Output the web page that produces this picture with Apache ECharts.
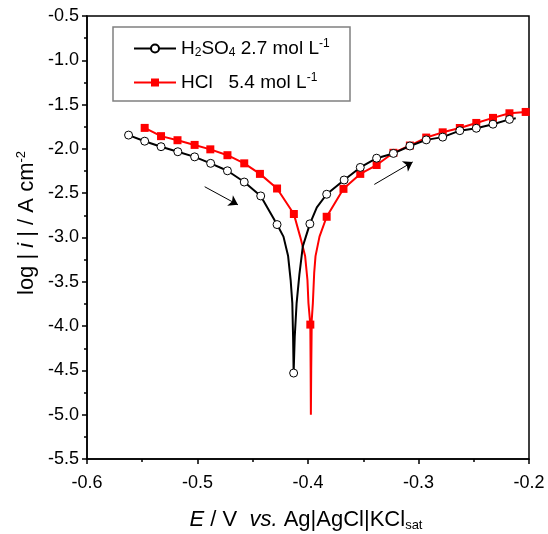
<!DOCTYPE html>
<html><head><meta charset="utf-8">
<script src="https://cdn.jsdelivr.net/npm/echarts@6/dist/echarts.min.js"></script>
<style>html,body{margin:0;padding:0;background:#fff}#c{width:548px;height:534px}</style>
</head><body><div id="c"></div>
<script>
// Tick values
const xTicks = [-0.6, -0.5, -0.4, -0.3, -0.2];
const yTicks = [-5.5, -5.0, -4.5, -4.0, -3.5, -3.0, -2.5, -2.0, -1.5, -1.0, -0.5];

// H2SO4 2.7 mol/L : marker points
const h2so4E = [-0.5624,-0.5478,-0.5330,-0.5178,-0.5026,-0.4881,-0.4729,-0.4577,-0.4428,-0.4280,-0.4130,-0.3983,-0.3831,-0.3673,-0.3527,-0.3379,-0.3227,-0.3078,-0.2930,-0.2781,-0.2626,-0.2477,-0.2326,-0.2177];
const h2so4LogI = [-1.844,-1.913,-1.975,-2.032,-2.090,-2.163,-2.247,-2.374,-2.531,-2.854,-4.53,-2.846,-2.512,-2.351,-2.209,-2.105,-2.051,-1.967,-1.898,-1.867,-1.794,-1.767,-1.721,-1.667];
// H2SO4 : extra curve points (no marker)
const h2so4CurveE = [-0.4222,-0.4180,-0.4157,-0.4142,-0.4135,-0.4120,-0.4103,-0.4078,-0.4047,-0.3920,-0.2120];
const h2so4CurveLogI = [-2.99,-3.21,-3.48,-3.74,-4.12,-4.12,-3.74,-3.42,-3.10,-2.66,-1.655];

// HCl 5.4 mol/L : marker points
const hclE = [-0.5478,-0.5330,-0.5181,-0.5026,-0.4884,-0.4729,-0.4577,-0.4435,-0.4280,-0.4128,-0.3979,-0.3831,-0.3679,-0.3527,-0.3379,-0.3227,-0.3078,-0.2930,-0.2781,-0.2626,-0.2477,-0.2326,-0.2177,-0.2030];
const hclLogI = [-1.763,-1.856,-1.902,-1.955,-2.005,-2.071,-2.163,-2.282,-2.447,-2.735,-3.983,-2.766,-2.451,-2.282,-2.182,-2.044,-1.962,-1.872,-1.813,-1.764,-1.707,-1.650,-1.598,-1.583];
// HCl : extra curve points (no marker)
const hclCurveE = [-0.4071,-0.4026,-0.4005,-0.3996,-0.3976,-0.3974,-0.3971,-0.3966,-0.3956,-0.3944,-0.3932,-0.3896];
const hclCurveLogI = [-2.99,-3.21,-3.48,-3.74,-4.50,-5.00,-4.50,-3.93,-3.74,-3.40,-3.21,-2.99];

// Arrows [x1, y1, x2, y2]
const arrowCathodic = [-0.4935, -2.427, -0.4634, -2.631];
const arrowAnodic = [-0.3400, -2.401, -0.3053, -2.147];

function build(E, L, cE, cL) {
  const pts = [];
  E.forEach((x, i) => pts.push({ value: [x, L[i]] }));
  cE.forEach((x, i) => pts.push({ value: [x, cL[i]], symbol: 'none' }));
  pts.sort((a, b) => a.value[0] - b.value[0]);
  return pts;
}

const FONT = '"Liberation Sans", Arial, sans-serif';
const chart = echarts.init(document.getElementById('c'));
const fmt1 = v => v.toFixed(1);

chart.setOption({
  animation: false,
  backgroundColor: '#fff',
  grid: { left: 87, right: 19, top: 16, bottom: 75, show: true, borderColor: '#000', borderWidth: 1.5, backgroundColor: 'transparent' },
  xAxis: {
    type: 'value', min: xTicks[0], max: xTicks[xTicks.length - 1], interval: 0.1,
    axisLine: { show: true, onZero: false, lineStyle: { color: '#000', width: 1.5 } },
    axisTick: { show: true, inside: false, length: 5, lineStyle: { color: '#000', width: 1.5 } },
    minorTick: { show: true, splitNumber: 2, length: 3, lineStyle: { color: '#000', width: 1.5 } },
    splitLine: { show: false },
    axisLabel: { color: '#000', fontSize: 18, fontFamily: FONT, margin: 15, formatter: fmt1 }
  },
  yAxis: {
    type: 'value', min: yTicks[0], max: yTicks[yTicks.length - 1], interval: 0.5,
    axisLine: { show: true, onZero: false, lineStyle: { color: '#000', width: 1.5 } },
    axisTick: { show: true, inside: false, length: 5, lineStyle: { color: '#000', width: 1.5 } },
    minorTick: { show: true, splitNumber: 2, length: 3, lineStyle: { color: '#000', width: 1.5 } },
    splitLine: { show: false },
    axisLabel: { color: '#000', fontSize: 18, fontFamily: FONT, margin: 8, formatter: fmt1 }
  },
  legend: {
    data: ['H2SO4', 'HCl'], orient: 'vertical', left: 133, top: 38,
    itemWidth: 42, itemHeight: 10, itemGap: 13, padding: 0,
    textStyle: {
      color: '#000', fontSize: 19, fontFamily: FONT, lineHeight: 21,
      rich: {
        sub: { fontSize: 12, fontFamily: FONT, color: '#000', lineHeight: 7, verticalAlign: 'bottom' },
        sup: { fontSize: 12, fontFamily: FONT, color: '#000', lineHeight: 9, verticalAlign: 'top' }
      }
    },
    formatter: n => n === 'H2SO4' ? 'H{sub|2}SO{sub|4} 2.7 mol L{sup|-1}' : 'HCl   5.4 mol L{sup|-1}'
  },
  graphic: [
    { type: 'rect', z: 1, shape: { x: 113, y: 27, width: 237, height: 74 }, style: { fill: 'transparent', stroke: '#808080', lineWidth: 1.5 } },
    { type: 'text', x: 27, y: 223, rotation: Math.PI / 2,
      style: { text: 'log | {i|i} | / A cm{sup|-2}', fill: '#000', fontSize: 22, fontFamily: FONT, align: 'center', verticalAlign: 'middle', lineHeight: 24,
        rich: { i: { fontStyle: 'italic', fontSize: 22, fontFamily: FONT, fill: '#000' },
                sup: { fontSize: 13, fontFamily: FONT, fill: '#000', lineHeight: 10, verticalAlign: 'top' } } } },
    { type: 'text', x: 306, y: 520,
      style: { text: '{i|E} / V  {i|vs.} Ag|AgCl|KCl{sub|sat}', fill: '#000', fontSize: 22, fontFamily: FONT, align: 'center', verticalAlign: 'middle', lineHeight: 24,
        rich: { i: { fontStyle: 'italic', fontSize: 22, fontFamily: FONT, fill: '#000' },
                sub: { fontSize: 13, fontFamily: FONT, fill: '#000', lineHeight: 5, verticalAlign: 'bottom' } } } }
  ],
  series: [
    {
      name: 'HCl', type: 'line', z: 2,
      data: build(hclE, hclLogI, hclCurveE, hclCurveLogI),
      symbol: 'rect', symbolSize: 8, showAllSymbol: true,
      itemStyle: { color: '#ff0000', borderColor: '#ff0000', borderWidth: 0 },
      lineStyle: { color: '#ff0000', width: 2 }
    },
    {
      name: 'H2SO4', type: 'line', z: 3,
      data: build(h2so4E, h2so4LogI, h2so4CurveE, h2so4CurveLogI),
      symbol: 'circle', symbolSize: 8, showAllSymbol: true,
      itemStyle: { color: '#ffffff', borderColor: '#000', borderWidth: 1 },
      lineStyle: { color: '#000', width: 2 },
      markLine: {
        silent: true, symbol: ['none', 'arrow'], symbolSize: 9,
        lineStyle: { color: '#000', width: 1, type: 'solid' },
        label: { show: false },
        data: [arrowCathodic, arrowAnodic].map(a => [{ coord: [a[0], a[1]] }, { coord: [a[2], a[3]] }])
      }
    }
  ]
});
</script>
</body></html>
